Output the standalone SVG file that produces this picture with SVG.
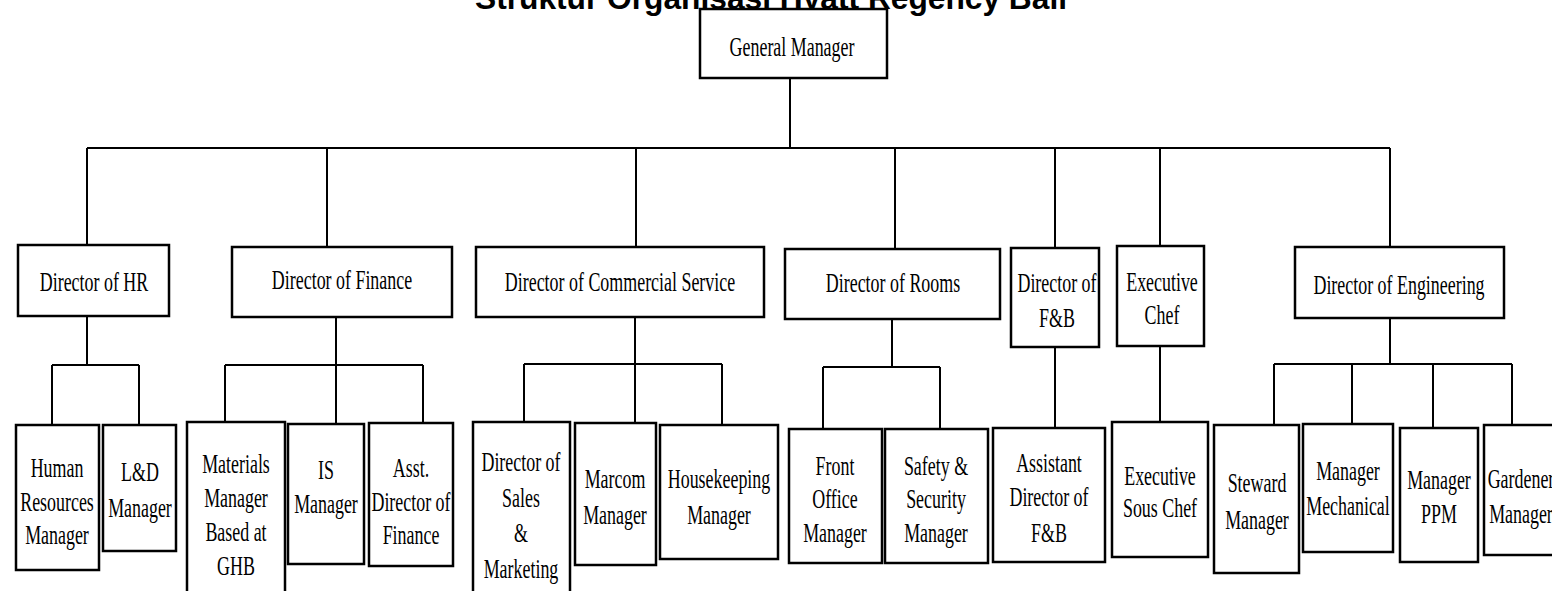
<svg xmlns="http://www.w3.org/2000/svg" width="1552" height="591" viewBox="0 0 1552 591">
<style>
.bg{fill:#fff}
.box{fill:#fff;stroke:#000;stroke-width:2.5}
.ln{fill:none;stroke:#000;stroke-width:2}
.t{font-family:"Liberation Serif","Times New Roman",serif;font-size:28px;fill:#000;text-anchor:middle}
.title{font-family:"Liberation Sans",Arial,sans-serif;font-size:32px;font-weight:bold;fill:#000;text-anchor:middle}
</style>
<rect class="bg" x="0" y="0" width="1552" height="591"/>
<text class="title" x="771" y="9" textLength="592" lengthAdjust="spacingAndGlyphs">Struktur Organisasi Hyatt Regency Bali</text>
<g id="connectors">
<path class="ln" d="M790 78V148M87 148H1390M87 148V245M327 148V247M636 148V247M895 148V249M1055 148V248M1160 148V246M1390 148V247"/>
<path class="ln" d="M87 316V365M52 365H139M52 365V425M139 365V425"/>
<path class="ln" d="M336 317V365M225 365H423M225 365V422M336 365V424M423 365V423"/>
<path class="ln" d="M635 317V364M524 364H722M524 364V422M635 364V423M722 364V425"/>
<path class="ln" d="M892 319V367M823 367H940M823 367V429M940 367V429"/>
<path class="ln" d="M1055 347V428M1160 346V422"/>
<path class="ln" d="M1390 318V364M1274 364H1512M1274 364V425M1352 364V424M1433 364V428M1512 364V425"/>
</g>
<g id="gm"><rect class="box" x="700" y="9" width="187" height="69"/><text class="t" transform="translate(792,56) scale(0.64,1)">General Manager</text></g>
<g id="dir-hr"><rect class="box" x="18" y="245" width="151" height="71"/><text class="t" transform="translate(94,291) scale(0.64,1)">Director of HR</text></g>
<g id="dir-fin"><rect class="box" x="232" y="247" width="220" height="70"/><text class="t" transform="translate(342,289) scale(0.64,1)">Director of Finance</text></g>
<g id="dir-com"><rect class="box" x="476" y="247" width="288" height="70"/><text class="t" transform="translate(620,291) scale(0.64,1)">Director of Commercial Service</text></g>
<g id="dir-rooms"><rect class="box" x="785" y="249" width="215" height="70"/><text class="t" transform="translate(893,292) scale(0.64,1)">Director of Rooms</text></g>
<g id="dir-fb"><rect class="box" x="1011" y="248" width="88" height="99"/><text class="t" transform="translate(1057,292) scale(0.64,1)">Director of</text><text class="t" transform="translate(1057,327) scale(0.64,1)">F&amp;B</text></g>
<g id="exec-chef"><rect class="box" x="1117" y="246" width="87" height="100"/><text class="t" transform="translate(1162,291) scale(0.64,1)">Executive</text><text class="t" transform="translate(1162,324) scale(0.64,1)">Chef</text></g>
<g id="dir-eng"><rect class="box" x="1295" y="247" width="209" height="71"/><text class="t" transform="translate(1399,294) scale(0.64,1)">Director of Engineering</text></g>
<g id="hrm"><rect class="box" x="16" y="425" width="83" height="145"/><text class="t" transform="translate(57,477) scale(0.64,1)">Human</text><text class="t" transform="translate(57,511) scale(0.64,1)">Resources</text><text class="t" transform="translate(57,544) scale(0.64,1)">Manager</text></g>
<g id="ld"><rect class="box" x="103" y="425" width="73" height="126"/><text class="t" transform="translate(140,481) scale(0.64,1)">L&amp;D</text><text class="t" transform="translate(140,517) scale(0.64,1)">Manager</text></g>
<g id="materials"><rect class="box" x="187" y="422" width="98" height="180"/><text class="t" transform="translate(236,473) scale(0.64,1)">Materials</text><text class="t" transform="translate(236,507) scale(0.64,1)">Manager</text><text class="t" transform="translate(236,541) scale(0.64,1)">Based at</text><text class="t" transform="translate(236,575) scale(0.64,1)">GHB</text></g>
<g id="is"><rect class="box" x="288" y="424" width="76" height="140"/><text class="t" transform="translate(326,479) scale(0.64,1)">IS</text><text class="t" transform="translate(326,513) scale(0.64,1)">Manager</text></g>
<g id="asst-fin"><rect class="box" x="369" y="423" width="84" height="143"/><text class="t" transform="translate(411,477) scale(0.64,1)">Asst.</text><text class="t" transform="translate(411,511) scale(0.64,1)">Director of</text><text class="t" transform="translate(411,544) scale(0.64,1)">Finance</text></g>
<g id="sales"><rect class="box" x="473" y="422" width="97" height="180"/><text class="t" transform="translate(521,471) scale(0.64,1)">Director of</text><text class="t" transform="translate(521,507) scale(0.64,1)">Sales</text><text class="t" transform="translate(521,542) scale(0.64,1)">&amp;</text><text class="t" transform="translate(521,578) scale(0.64,1)">Marketing</text></g>
<g id="marcom"><rect class="box" x="575" y="423" width="81" height="142"/><text class="t" transform="translate(615,488) scale(0.64,1)">Marcom</text><text class="t" transform="translate(615,524) scale(0.64,1)">Manager</text></g>
<g id="housekeeping"><rect class="box" x="660" y="425" width="118" height="134"/><text class="t" transform="translate(719,488) scale(0.64,1)">Housekeeping</text><text class="t" transform="translate(719,524) scale(0.64,1)">Manager</text></g>
<g id="front"><rect class="box" x="789" y="429" width="93" height="134"/><text class="t" transform="translate(835,475) scale(0.64,1)">Front</text><text class="t" transform="translate(835,508) scale(0.64,1)">Office</text><text class="t" transform="translate(835,542) scale(0.64,1)">Manager</text></g>
<g id="safety"><rect class="box" x="885" y="429" width="103" height="134"/><text class="t" transform="translate(936,475) scale(0.64,1)">Safety &amp;</text><text class="t" transform="translate(936,508) scale(0.64,1)">Security</text><text class="t" transform="translate(936,542) scale(0.64,1)">Manager</text></g>
<g id="asst-fb"><rect class="box" x="993" y="428" width="112" height="134"/><text class="t" transform="translate(1049,472) scale(0.64,1)">Assistant</text><text class="t" transform="translate(1049,506) scale(0.64,1)">Director of</text><text class="t" transform="translate(1049,542) scale(0.64,1)">F&amp;B</text></g>
<g id="sous"><rect class="box" x="1112" y="422" width="96" height="135"/><text class="t" transform="translate(1160,485) scale(0.64,1)">Executive</text><text class="t" transform="translate(1160,517) scale(0.64,1)">Sous Chef</text></g>
<g id="steward"><rect class="box" x="1214" y="425" width="85" height="148"/><text class="t" transform="translate(1257,492) scale(0.64,1)">Steward</text><text class="t" transform="translate(1257,529) scale(0.64,1)">Manager</text></g>
<g id="mech"><rect class="box" x="1303" y="424" width="90" height="128"/><text class="t" transform="translate(1348,480) scale(0.64,1)">Manager</text><text class="t" transform="translate(1348,515) scale(0.64,1)">Mechanical</text></g>
<g id="ppm"><rect class="box" x="1400" y="428" width="78" height="134"/><text class="t" transform="translate(1439,489) scale(0.64,1)">Manager</text><text class="t" transform="translate(1439,523) scale(0.64,1)">PPM</text></g>
<g id="gardener"><rect class="box" x="1484" y="425" width="80" height="130"/><text class="t" transform="translate(1521,488) scale(0.64,1)">Gardener</text><text class="t" transform="translate(1521,523) scale(0.64,1)">Manager</text></g>
</svg>
